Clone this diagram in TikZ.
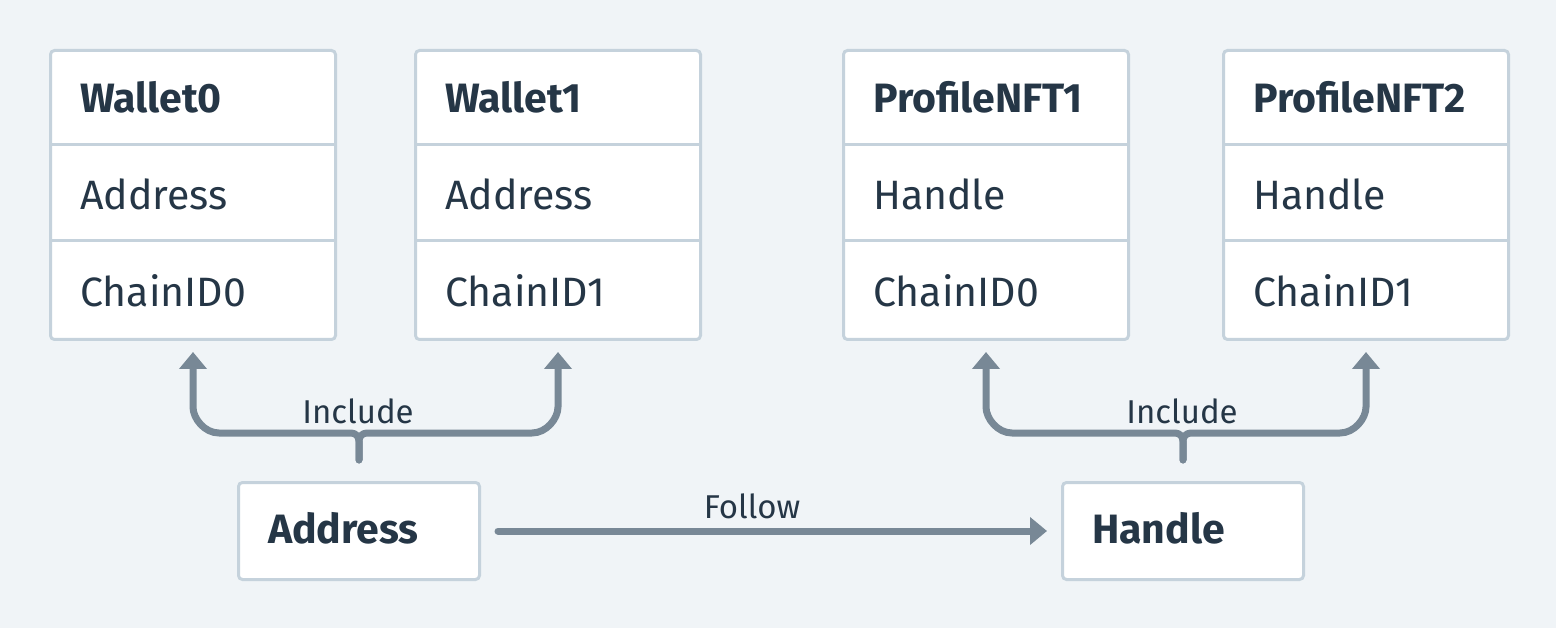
\documentclass[tikz,border=0pt]{standalone}
\usepackage{fontspec}
\setmainfont{Fira Sans}
\usetikzlibrary{arrows.meta,calc}
\definecolor{bg}{HTML}{F0F4F7}
\definecolor{bd}{HTML}{C5D2DC}
\definecolor{tx}{HTML}{253646}
\definecolor{ar}{HTML}{788896}
\tikzset{
  tbl/.style={draw=bd, line width=3pt, fill=white, rounded corners=4pt, minimum width=285pt, minimum height=289pt, inner sep=0pt, anchor=north west},
  cell/.style={anchor=base west, text=tx, font=\fontsize{41}{44}\selectfont, inner sep=0pt},
  head/.style={anchor=base west, text=tx, font=\fontsize{41}{44}\selectfont\bfseries, inner sep=0pt},
  ebox/.style={draw=bd, line width=3pt, fill=white, rounded corners=4pt, minimum width=241pt, minimum height=97pt, inner sep=0pt, anchor=north west},
  divider/.style={draw=bd, line width=3pt},
  conn/.style={draw=ar, line width=7pt, line cap=round, line join=round},
  tipped/.style={-{Triangle[width=27pt,length=17pt]}},
  lbl/.style={anchor=base, text=tx, font=\fontsize{33}{36}\selectfont, inner sep=0pt}
}
\begin{document}
\begin{tikzpicture}[x=1pt,y=-1pt]
\fill[bg] (0,0) rectangle (1556,628);
\useasboundingbox (0,0) rectangle (1556,628);

% tables
\node[tbl] (w0) at (49,49) {};
\node[tbl] (w1) at (414,49) {};
\node[tbl] (p1) at (842,49) {};
\node[tbl] (p2) at (1222,49) {};
\foreach \t in {w0,w1,p1,p2}{
  \draw[divider] ($(\t.north west)+(0,96)$) -- ($(\t.north east)+(0,96)$);
  \draw[divider] ($(\t.north west)+(0,192)$) -- ($(\t.north east)+(0,192)$);
}
\node[head] (w0h) at (80,113) {Wallet0};
\node[cell] (w0a) at (80,210) {Address};
\node[cell] (w0c) at (80,307) {ChainID0};
\node[head] (w1h) at (445,113) {Wallet1};
\node[cell] (w1a) at (445,210) {Address};
\node[cell] (w1c) at (445,307) {ChainID1};
\node[head] (p1h) at (873,113) {ProfileNFT1};
\node[cell] (p1a) at (873,210) {Handle};
\node[cell] (p1c) at (873,307) {ChainID0};
\node[head] (p2h) at (1253,113) {ProfileNFT2};
\node[cell] (p2a) at (1253,210) {Handle};
\node[cell] (p2c) at (1253,307) {ChainID1};

% entity boxes
\node[ebox] (addr) at (237,481) {};
\node[ebox] (hdl) at (1061,481) {};
\node[head] (addrt) at (268,543) {Address};
\node[head] (hdlt) at (1092,543) {Handle};

% follow arrow
\draw[conn,tipped,shorten <=17pt,shorten >=14pt] (addr.east) -- (hdl.west);
\node[lbl] (fl) at (752,518) {Follow};

% include braces
\coordinate (s0) at ($(addr.north)+(0,-21)$);
\coordinate (s1) at ($(hdl.north)+(0,-21)$);
\foreach \s/\t/\d in {s0/w0/-1, s0/w1/1, s1/p1/-1, s1/p2/1}{
  \draw[conn,tipped] (\s) -- ++(0,-19)
    .. controls ++(0,-4.5) and ($(\s)+(\d*3.5,-27)$) .. ($(\s)+(\d*8,-27)$)
    -- ($(\t.south |- \s)+(-\d*26,-27)$)
    .. controls ($(\t.south |- \s)+(-\d*11.5,-27)$) and ($(\t.south |- \s)+(0,-41.5)$) .. ($(\t.south |- \s)+(0,-53)$)
    -- ($(\t.south)+(0,11)$);
}
\node[lbl] (inc0) at (358,423) {Include};
\node[lbl] (inc1) at (1182,423) {Include};
\end{tikzpicture}
\end{document}
